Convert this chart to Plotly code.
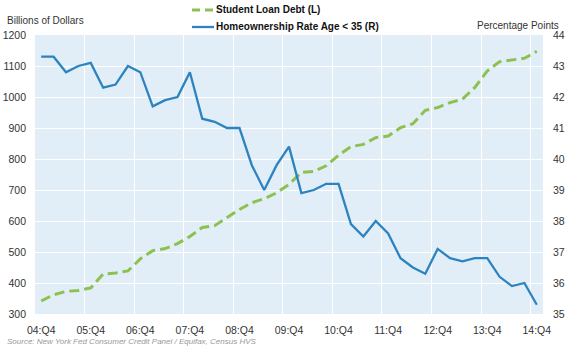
import plotly.graph_objects as go

years = ["04", "05", "06", "07", "08", "09", "10", "11", "12", "13", "14"]
quarters = []
for i, y in enumerate(years):
    qs = ["Q4"] if i == 0 else ["Q1", "Q2", "Q3", "Q4"]
    for q in qs:
        quarters.append(f"{y}:{q}")

student_loan = [342, 362, 373, 376, 384, 429, 432, 439, 478, 504, 511, 527, 550, 579,
                585, 610, 637, 659, 672, 691, 718, 757, 760, 778, 812, 840, 847, 869,
                874, 901, 914, 957, 966, 982, 993, 1031, 1084, 1114, 1120, 1125, 1147]
homeownership = [43.3, 43.3, 42.8, 43.0, 43.1, 42.3, 42.4, 43.0, 42.8, 41.7, 41.9, 42.0,
                 42.8, 41.3, 41.2, 41.0, 41.0, 39.8, 39.0, 39.8, 40.4, 38.9, 39.0, 39.2,
                 39.2, 37.9, 37.5, 38.0, 37.6, 36.8, 36.5, 36.3, 37.1, 36.8, 36.7, 36.8,
                 36.8, 36.2, 35.9, 36.0, 35.3]

series_names = ["Student Loan Debt (L)", "Homeownership Rate Age < 35 (R)"]
series_colors = ["#8CC152", "#2B83BF"]

tick_labels = [q for q in quarters if q.endswith("Q4")]
xs = list(range(len(quarters)))
tick_pos = [quarters.index(t) for t in tick_labels]

font_family = "Liberation Sans, Arial, sans-serif"
W, H = 570, 350
ML, MR, MT, MB = 35, 27, 35, 36
PW, PH = W - ML - MR, H - MT - MB


def px_x(p):
    return (p - ML) / PW


def px_y(p):
    return (H - MB - p) / PH


fig = go.Figure()
fig.add_trace(go.Scatter(
    x=xs, y=student_loan, name=series_names[0], mode="lines",
    line=dict(color=series_colors[0], width=3, dash="10px,5px"), yaxis="y"))
fig.add_trace(go.Scatter(
    x=xs, y=homeownership, name=series_names[1], mode="lines",
    line=dict(color=series_colors[1], width=2.3), yaxis="y2"))

shapes = [
    dict(type="line", xref="paper", yref="paper", x0=px_x(192), x1=px_x(214),
         y0=px_y(10), y1=px_y(10), line=dict(color=series_colors[0], width=3, dash="8px,5px")),
    dict(type="line", xref="paper", yref="paper", x0=px_x(192), x1=px_x(214),
         y0=px_y(27), y1=px_y(27), line=dict(color=series_colors[1], width=2.3)),
]

annotations = [
    dict(text=f"<b>{series_names[0]}</b>", x=px_x(214), y=px_y(10), xref="paper", yref="paper",
         showarrow=False, xanchor="left", yanchor="middle", font=dict(size=10, color="#111111")),
    dict(text=f"<b>{series_names[1]}</b>", x=px_x(214), y=px_y(27), xref="paper", yref="paper",
         showarrow=False, xanchor="left", yanchor="middle", font=dict(size=10, color="#111111")),
    dict(text="Billions of Dollars", x=px_x(5), y=px_y(20), xref="paper", yref="paper",
         showarrow=False, xanchor="left", yanchor="middle", font=dict(size=10, color="#333333")),
    dict(text="Percentage Points", x=px_x(561), y=px_y(25), xref="paper", yref="paper",
         showarrow=False, xanchor="right", yanchor="middle", font=dict(size=10, color="#333333")),
    dict(text="Source: New York Fed Consumer Credit Panel / Equifax, Census HVS",
         x=px_x(5), y=px_y(341), xref="paper", yref="paper", showarrow=False,
         xanchor="left", yanchor="middle",
         font=dict(size=8, color="#999999", style="italic")),
]

fig.update_layout(
    width=W, height=H,
    margin=dict(l=ML, r=MR, t=MT, b=MB, autoexpand=False),
    paper_bgcolor="white", plot_bgcolor="#E2EEF7",
    font=dict(family=font_family, size=10, color="#333333"),
    showlegend=False,
    xaxis=dict(range=[-0.5, 40.5], tickmode="array", tickvals=tick_pos, ticktext=tick_labels,
               showgrid=False, zeroline=False, showline=False, ticks="",
               ticklabelstandoff=8,
               tickfont=dict(size=10.5, color="#333333"),
               minor=dict(tickmode="array", tickvals=[p - 0.5 for p in tick_pos[1:]],
                          showgrid=True, gridcolor="white", gridwidth=1, ticks="")),
    yaxis=dict(range=[300, 1200], dtick=100, showgrid=True, gridcolor="white", gridwidth=1,
               zeroline=False, showline=False, ticks="", ticklabelstandoff=8,
               tickfont=dict(size=10.5, color="#333333")),
    yaxis2=dict(range=[35, 44], dtick=1, overlaying="y", side="right", showgrid=False,
                zeroline=False, showline=False, ticks="", ticklabelstandoff=9,
                tickfont=dict(size=10.5, color="#333333")),
    shapes=shapes,
    annotations=annotations,
)

fig.write_html("out.html")
